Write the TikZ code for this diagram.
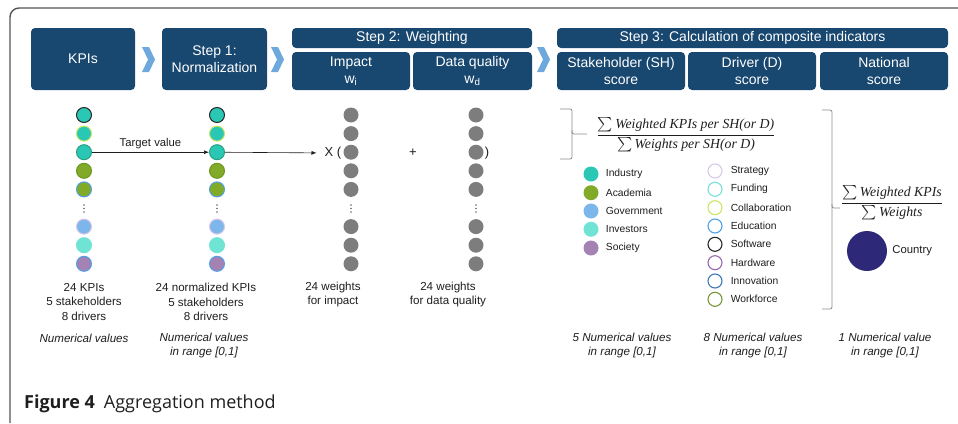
\documentclass[tikz,border=0pt]{standalone}
\usepackage{amsmath}
\usepackage{fontspec}
\setmainfont{Liberation Sans}
\newfontfamily\capfont{Open Sans}
\newfontfamily\fmla{Liberation Serif}
\usetikzlibrary{arrows.meta,positioning}

\definecolor{boxblue}{RGB}{24,71,112}
\definecolor{chevblue}{RGB}{111,168,220}
\definecolor{txt}{RGB}{30,30,30}
\definecolor{framegray}{RGB}{85,85,85}
\definecolor{bracegray}{RGB}{140,140,140}
\definecolor{wgray}{RGB}{125,125,125}
\definecolor{ind}{RGB}{42,200,180}
\definecolor{indrim}{RGB}{40,160,130}
\definecolor{aca}{RGB}{128,170,40}
\definecolor{acarim}{RGB}{110,150,35}
\definecolor{gov}{RGB}{125,182,235}
\definecolor{inv}{RGB}{112,228,212}
\definecolor{soc}{RGB}{165,130,180}
\definecolor{strategy}{RGB}{215,200,230}
\definecolor{funding}{RGB}{120,225,215}
\definecolor{collab}{RGB}{200,230,100}
\definecolor{educ}{RGB}{80,160,230}
\definecolor{software}{RGB}{40,40,40}
\definecolor{hardware}{RGB}{150,105,175}
\definecolor{innov}{RGB}{60,120,180}
\definecolor{workforce}{RGB}{120,150,60}
\definecolor{country}{RGB}{46,40,120}

\tikzset{
  hdr/.style={rectangle, rounded corners=4pt, fill=boxblue, text=white, align=center, inner sep=0pt, font=\fontsize{14}{17}\selectfont},
  kpi/.style={circle, minimum size=15pt, inner sep=0pt, line width=1pt},
  wgt/.style={circle, minimum size=15pt, inner sep=0pt, fill=wgray},
  shdot/.style={circle, minimum size=15pt, inner sep=0pt},
  drv/.style={circle, minimum size=14pt, inner sep=0pt, line width=1.1pt},
  lgd/.style={inner sep=0pt, font=\fontsize{10.3}{12}\selectfont, text=txt},
  note/.style={align=center, inner sep=0pt, font=\fontsize{11.6}{14.5}\selectfont, text=txt},
  numv/.style={align=center, inner sep=0pt, font=\fontsize{11.6}{14.5}\selectfont\itshape, text=txt},
  brc/.style={bracegray, line width=0.8pt, rounded corners=2pt},
  tip/.style={-{Latex[length=5pt,width=4pt]}, txt, line width=0.6pt},
}

\begin{document}
\begin{tikzpicture}[x=1pt,y=-1pt]
\useasboundingbox (0,0) rectangle (958,423);
\draw[framegray, line width=1.4pt, rounded corners=9pt] (958,8) -- (10,8) -- (10,423);

\node[hdr, minimum width=104pt, minimum height=62pt] (kpis) at (83,59) {KPIs};
\node[hdr, minimum width=105pt, minimum height=62pt] (step1) at (214.5,59) {Step 1:\\Normalization};
\node[hdr, minimum width=240pt, minimum height=20pt] (step2) at (412,38) {Step 2: Weighting};
\node[hdr, minimum width=118pt, minimum height=38pt] (impact) at (351,71) {Impact\\w\textsubscript{i}};
\node[hdr, minimum width=119pt, minimum height=38pt] (quality) at (472.5,71) {Data quality\\w\textsubscript{d}};
\node[hdr, minimum width=391pt, minimum height=20pt] (step3) at (752.5,38) {Step 3: Calculation of composite indicators};
\node[hdr, minimum width=128pt, minimum height=38pt] (shscore) at (621,71) {Stakeholder (SH)\\score};
\node[hdr, minimum width=128pt, minimum height=38pt] (dscore) at (752,71) {Driver (D)\\score};
\node[hdr, minimum width=128pt, minimum height=38pt] (nscore) at (884,71) {National\\score};

\foreach \cx in {142,271,537}
  \fill[chevblue] (\cx,47) -- ++(7,0) -- ++(6,12.5) -- ++(-6,12.5) -- ++(-7,0) -- ++(6,-12.5) -- cycle;

\foreach \i/\y/\f/\d in {1/115/ind/software, 2/133.6/ind/collab, 3/152.2/ind/indrim, 4/170.8/aca/acarim, 5/189.4/aca/educ, 6/226.6/gov/strategy, 7/245.2/inv/inv, 8/263.8/soc/educ}{
  \node[kpi, fill=\f, draw=\d] (k\i) at (84,\y) {};
  \node[kpi, fill=\f, draw=\d] (n\i) at (217,\y) {};
  \node[wgt] (wi\i) at (351,\y) {};
  \node[wgt] (wd\i) at (476,\y) {};
}
\foreach \c in {84,217,351,476}
  \foreach \dy in {205,208.5,212}
    \fill[black!60] (\c,\dy) circle (0.8pt);

\node[inner xsep=8pt, inner ysep=0pt, text=txt, font=\fontsize{13}{13}\selectfont] (xpar) at (333,153) {X (};
\node[text=txt, font=\fontsize{13}{13}\selectfont] (plus) at (413,153) {+};
\node[text=txt, font=\fontsize{13}{13}\selectfont] (rpar) at (487,153) {)};
\draw[tip] (k3) -- node[above, inner sep=3pt, text=txt, font=\fontsize{11.3}{13}\selectfont] (target) {Target value} (n3);
\draw[tip] (n3) -- (xpar);

\node[note] (kpinote) at (84,302) {24 KPIs\\5 stakeholders\\8 drivers};
\node[numv] (kpival) at (84,338) {Numerical values};
\node[note] (normnote) at (206,302) {24 normalized KPIs\\5 stakeholders\\8 drivers};
\node[numv] (normval) at (204,345.5) {Numerical values\\in range [0,1]};
\node[note] (winote) at (333,294.5) {24 weights\\for impact};
\node[note] (wdnote) at (448,294.5) {24 weights\\for data quality};
\node[numv] (shval) at (622,345.5) {5 Numerical values\\in range [0,1]};
\node[numv] (dval) at (753,345.5) {8 Numerical values\\in range [0,1]};
\node[numv] (nval) at (885,345.5) {1 Numerical value\\in range [0,1]};

\draw[brc] (560,109) -- (572,109) -- (572,134) -- (587,134);
\draw[brc] (572,130) -- (572,159) -- (560,159);
\node[text=txt, font=\fontsize{13.8}{15}\selectfont] (shfrac) at (686,135)
  {$\dfrac{\sum\text{\fmla\itshape Weighted KPIs per SH(or D)}}{\sum\text{\fmla\itshape Weights per SH(or D)}}$};

\foreach \i/\y/\c/\t in {1/174/ind/Industry, 2/192.7/aca/Academia, 3/211/gov/Government, 4/229.3/inv/Investors, 5/248/soc/Society}{
  \node[shdot, fill=\c] (sh\i) at (591,\y) {};
  \node[lgd, right=7pt of sh\i] (shlbl\i) {\t};
}
\foreach \i/\y/\c/\t in {1/171/strategy/Strategy, 2/189.3/funding/Funding, 3/207.7/collab/Collaboration, 4/226/educ/Education, 5/244.3/software/Software, 6/262.7/hardware/Hardware, 7/281/innov/Innovation, 8/299.3/workforce/Workforce}{
  \node[drv, draw=\c] (drv\i) at (715,\y) {};
  \node[lgd, right=8pt of drv\i] (drvlbl\i) {\t};
}

\draw[brc] (822,110) -- (832,110) -- (832,208) -- (840,208);
\draw[brc] (832,204) -- (832,309) -- (822,309);
\node[text=txt, font=\fontsize{13.8}{15}\selectfont] (natfrac) at (892,203)
  {$\dfrac{\sum\text{\fmla\itshape Weighted KPIs}}{\sum\text{\fmla\itshape Weights}}$};
\node[circle, fill=country, minimum size=40pt, inner sep=0pt] (ctry) at (867,251) {};
\node[lgd, font=\fontsize{11.3}{13}\selectfont, right=5pt of ctry] (ctrylbl) {Country};

\node[anchor=west, inner sep=0pt, text=txt, font=\capfont\fontsize{18}{20}\selectfont] (caption) at (24,404) {\textbf{Figure 4}\enspace Aggregation method};
\end{tikzpicture}
\end{document}
